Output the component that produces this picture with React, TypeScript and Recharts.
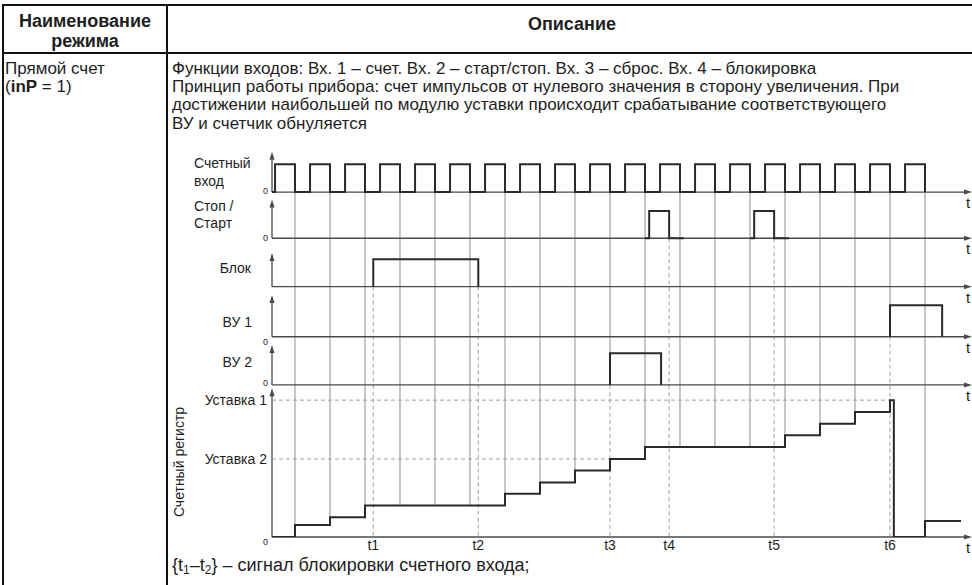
import React from "react";
import { ComposedChart, Line, XAxis, YAxis, ReferenceLine } from "recharts";

// time axis: one unit = one period of the counting input
const T_MIN = 0.343;
const T_MAX = 20.343;
const gridTimes = [1, 2, 3, 4, 5, 6, 7, 8, 9, 10, 11, 12, 13, 14, 15, 16, 17, 18, 19];

// signals as step points [time, level]; the level holds until the next point, null = gap
type Pt = [number, number | null];

const countingInput: Pt[] = [
  [0.343, 0], [0.43, 1], [1, 0], [1.43, 1], [2, 0], [2.43, 1], [3, 0], [3.43, 1], [4, 0],
  [4.43, 1], [5, 0], [5.43, 1], [6, 0], [6.43, 1], [7, 0], [7.43, 1], [8, 0], [8.43, 1],
  [9, 0], [9.43, 1], [10, 0], [10.43, 1], [11, 0], [11.43, 1], [12, 0], [12.43, 1], [13, 0],
  [13.43, 1], [14, 0], [14.43, 1], [15, 0], [15.43, 1], [16, 0], [16.43, 1], [17, 0],
  [17.43, 1], [18, 0], [18.43, 1], [19, 0],
];
const stopStart: Pt[] = [
  [11, 0], [11.12, 1], [11.69, 0], [12.11, 0], [12.5, null],
  [14, 0], [14.12, 1], [14.69, 0], [15.11, 0],
];
const blockInput: Pt[] = [[3.237, 0], [3.237, 1], [6.237, 0]];
const output1: Pt[] = [[18, 0], [18, 1], [19.49, 0]];
const output2: Pt[] = [[10, 0], [10, 1], [11.46, 0]];
const counterRegister: Pt[] = [
  [0.343, 0], [1, 1.03], [2, 1.68], [3, 2.7], [7, 3.7], [8, 4.67], [9, 5.69], [10, 6.67],
  [11, 7.69], [15, 8.69], [16, 9.69], [17, 10.69], [18, 11.7], [18.11, 0], [19, 1.37], [20.03, 1.37],
];

const setpoint1 = 11.7;
const setpoint2 = 6.67;

const eventNames = ["t1", "t2", "t3", "t4", "t5", "t6"];
const eventTimes = [3.237, 6.237, 10, 11.69, 14.69, 18];
const eventSource = ["block", "block", "vu2", "stop", "stop", "vu1"];

// layout of the stacked channels on the shared y scale
const CH: Record<string, { base: number; amp: number; top: number; zero: boolean; zeroDy: number }> = {
  count: { base: 29.49, amp: 2.37, top: 32.93, zero: true, zeroDy: -1 },
  stop: { base: 25.54, amp: 2.33, top: 28.85, zero: true, zeroDy: 0 },
  block: { base: 21.4, amp: 2.34, top: 24.28, zero: false, zeroDy: 0 },
  vu1: { base: 17.12, amp: 2.69, top: 20.69, zero: true, zeroDy: 5 },
  vu2: { base: 13.0, amp: 2.7, top: 16.41, zero: true, zeroDy: -2 },
  counter: { base: 0, amp: 1, top: 12.71, zero: true, zeroDy: 5 },
};

const TEXT = "#1e1e1e";
const SIGNAL = "#2a2a2a";
const AXIS = "#4a4a4a";
const GRID = "#8f8f8f";
const DASH = "#a0a0a0";
const FONT = "'Liberation Sans', Arial, sans-serif";

const toSeries = (pts: Pt[], key: string) =>
  pts.map(([t, v]) => ({ t, y: v === null ? null : CH[key].base + v * CH[key].amp }));

const levelAt = (pts: Pt[], time: number) => {
  let v = 0;
  for (const [t, l] of pts) if (t <= time + 1e-6 && l !== null) v = l;
  return v;
};

const gridSegments = gridTimes.map((k) => {
  let end = levelAt(counterRegister, k);
  eventTimes.forEach((et, i) => {
    if (Math.abs(et - k) < 0.01) end = Math.max(end, CH[eventSource[i]].base);
  });
  return { k, end };
});

const yTicks = [
  ...Object.values(CH).filter((c) => c.zero).map((c) => c.base),
  setpoint2,
  setpoint1,
];

const HArrow = (p: any) => (
  <g>
    <line x1={p.x1} y1={p.y1} x2={p.x2 - 4} y2={p.y2} stroke={AXIS} strokeWidth={1.3} />
    <polygon points={`${p.x2},${p.y2} ${p.x2 - 8},${p.y2 - 2.5} ${p.x2 - 8},${p.y2 + 2.5}`} fill={AXIS} />
    <text x={p.x2 - 6} y={p.y2 + 16} fontSize={15} fill={TEXT} fontFamily={FONT}>t</text>
  </g>
);

const VArrow = (p: any) => (
  <g>
    <line x1={p.x1} y1={p.y1} x2={p.x2} y2={p.y2 + 4} stroke={p.stroke} strokeWidth={p.strokeWidth} />
    <polygon points={`${p.x2},${p.y2} ${p.x2 - 2.5},${p.y2 + 8} ${p.x2 + 2.5},${p.y2 + 8}`} fill={AXIS} />
  </g>
);

const YTick = (props: any) => {
  const { x, y, payload } = props;
  const v = payload.value;
  if (v === setpoint1 || v === setpoint2) {
    return (
      <text x={x} y={y} dy={5} textAnchor="end" fontSize={14} fill={TEXT} fontFamily={FONT}>
        {v === setpoint1 ? "Уставка 1" : "Уставка 2"}
      </text>
    );
  }
  const ch = Object.values(CH).find((c) => c.base === v);
  return (
    <text x={x + 1} y={y + (ch ? ch.zeroDy : 0)} dy={3} textAnchor="end" fontSize={9} fill={TEXT} fontFamily={FONT}>
      0
    </text>
  );
};

export default function App() {
  return (
    <div style={{ position: "absolute", left: 0, top: 0, width: 972, height: 585, background: "#fff" }}>
      <ComposedChart width={972} height={585} margin={{ top: 151, right: 0, bottom: 18, left: 182 }}>
        <XAxis
          type="number"
          dataKey="t"
          domain={[T_MIN, T_MAX]}
          allowDataOverflow
          ticks={eventTimes}
          interval={0}
          tickFormatter={(v: number) => eventNames[eventTimes.indexOf(v)] ?? ""}
          axisLine={false}
          tickLine={false}
          tickSize={2}
          tickMargin={1}
          height={30}
          tick={{ fontSize: 14, fill: TEXT, fontFamily: FONT }}
        />
        <YAxis
          type="number"
          domain={[0, 33]}
          allowDataOverflow
          ticks={yTicks}
          interval={0}
          axisLine={false}
          tickLine={false}
          tickSize={4}
          tickMargin={1}
          width={90}
          tick={YTick}
        />

        {gridSegments.map((g) => (
          <ReferenceLine
            key={`g${g.k}`}
            segment={[{ x: g.k, y: CH.count.base }, { x: g.k, y: g.end }]}
            stroke={GRID}
            strokeWidth={1}
            ifOverflow="visible"
          />
        ))}
        {eventTimes.map((t, i) => (
          <ReferenceLine
            key={`e${i}`}
            segment={[{ x: t, y: CH[eventSource[i]].base }, { x: t, y: 0 }]}
            stroke={DASH}
            strokeDasharray="4 3"
            ifOverflow="visible"
          />
        ))}
        <ReferenceLine
          segment={[{ x: T_MIN, y: setpoint1 }, { x: eventTimes[5], y: setpoint1 }]}
          stroke={DASH}
          strokeDasharray="4 3"
          ifOverflow="visible"
        />
        <ReferenceLine
          segment={[{ x: T_MIN, y: setpoint2 }, { x: eventTimes[2], y: setpoint2 }]}
          stroke={DASH}
          strokeDasharray="4 3"
          ifOverflow="visible"
        />

        {Object.entries(CH).map(([key, c]) => (
          <ReferenceLine
            key={`h${key}`}
            segment={[{ x: T_MIN, y: c.base }, { x: T_MAX, y: c.base }]}
            ifOverflow="visible"
            shape={HArrow}
          />
        ))}
        {Object.entries(CH).map(([key, c]) => (
          <ReferenceLine
            key={`v${key}`}
            segment={[{ x: T_MIN, y: c.base }, { x: T_MIN, y: c.top }]}
            stroke={key === "counter" ? "#8a8a8a" : AXIS}
            strokeWidth={key === "counter" ? 2 : 1.3}
            ifOverflow="visible"
            shape={VArrow}
          />
        ))}

        <Line data={toSeries(countingInput, "count")} dataKey="y" type="stepAfter" stroke={SIGNAL} strokeWidth={2} dot={false} activeDot={false} isAnimationActive={false} />
        <Line data={toSeries(stopStart, "stop")} dataKey="y" type="stepAfter" stroke={SIGNAL} strokeWidth={2} dot={false} activeDot={false} isAnimationActive={false} />
        <Line data={toSeries(blockInput, "block")} dataKey="y" type="stepAfter" stroke={SIGNAL} strokeWidth={2} dot={false} activeDot={false} isAnimationActive={false} />
        <Line data={toSeries(output1, "vu1")} dataKey="y" type="stepAfter" stroke={SIGNAL} strokeWidth={2} dot={false} activeDot={false} isAnimationActive={false} />
        <Line data={toSeries(output2, "vu2")} dataKey="y" type="stepAfter" stroke={SIGNAL} strokeWidth={2} dot={false} activeDot={false} isAnimationActive={false} />
        <Line data={toSeries(counterRegister, "counter")} dataKey="y" type="stepAfter" stroke={SIGNAL} strokeWidth={2} dot={false} activeDot={false} isAnimationActive={false} />
      </ComposedChart>

      <svg width={972} height={585} style={{ position: "absolute", left: 0, top: 0, pointerEvents: "none" }} fontFamily={FONT} fill={TEXT}>
        {/* table frame */}
        <line x1={2} y1={5} x2={972} y2={5} stroke="#111" strokeWidth={2} />
        <line x1={2} y1={53} x2={972} y2={53} stroke="#111" strokeWidth={2} />
        <line x1={3} y1={4} x2={3} y2={585} stroke="#111" strokeWidth={2} />
        <line x1={167} y1={4} x2={167} y2={585} stroke="#111" strokeWidth={2} />

        <text x={85} y={26.5} fontSize={18} fontWeight="bold" textAnchor="middle">Наименование</text>
        <text x={85} y={46.5} fontSize={18} fontWeight="bold" textAnchor="middle">режима</text>
        <text x={572} y={29.5} fontSize={18} fontWeight="bold" textAnchor="middle">Описание</text>

        <text x={5} y={73.5} fontSize={17}>Прямой счет</text>
        <text x={5} y={91.5} fontSize={17}>(<tspan fontWeight="bold">inP</tspan> = 1)</text>

        <text x={172} y={73.5} fontSize={17}>Функции входов: Вх. 1 – счет. Вх. 2 – старт/стоп. Вх. 3 – сброс. Вх. 4 – блокировка</text>
        <text x={172} y={91.5} fontSize={17}>Принцип работы прибора: счет импульсов от нулевого значения в сторону увеличения. При</text>
        <text x={172} y={110} fontSize={17}>достижении наибольшей по модулю уставки происходит срабатывание соответствующего</text>
        <text x={172} y={128.5} fontSize={17}>ВУ и счетчик обнуляется</text>

        <text x={194} y={168} fontSize={14}>Счетный</text>
        <text x={194} y={186} fontSize={14}>вход</text>
        <text x={194} y={211} fontSize={14}>Стоп /</text>
        <text x={194} y={228} fontSize={14}>Старт</text>
        <text x={251} y={273} fontSize={14} textAnchor="end">Блок</text>
        <text x={252} y={327} fontSize={14} textAnchor="end">ВУ 1</text>
        <text x={252} y={367} fontSize={14} textAnchor="end">ВУ 2</text>
        <text x={184} y={462} fontSize={14} textAnchor="middle" transform="rotate(-90 184 462)">Счетный регистр</text>

        <text x={172} y={571} fontSize={18}>
          {"{t"}
          <tspan fontSize={12} dy={3}>1</tspan>
          <tspan dy={-3}>–t</tspan>
          <tspan fontSize={12} dy={3}>2</tspan>
          <tspan dy={-3}>{"} – сигнал блокировки счетного входа;"}</tspan>
        </text>
      </svg>
    </div>
  );
}
